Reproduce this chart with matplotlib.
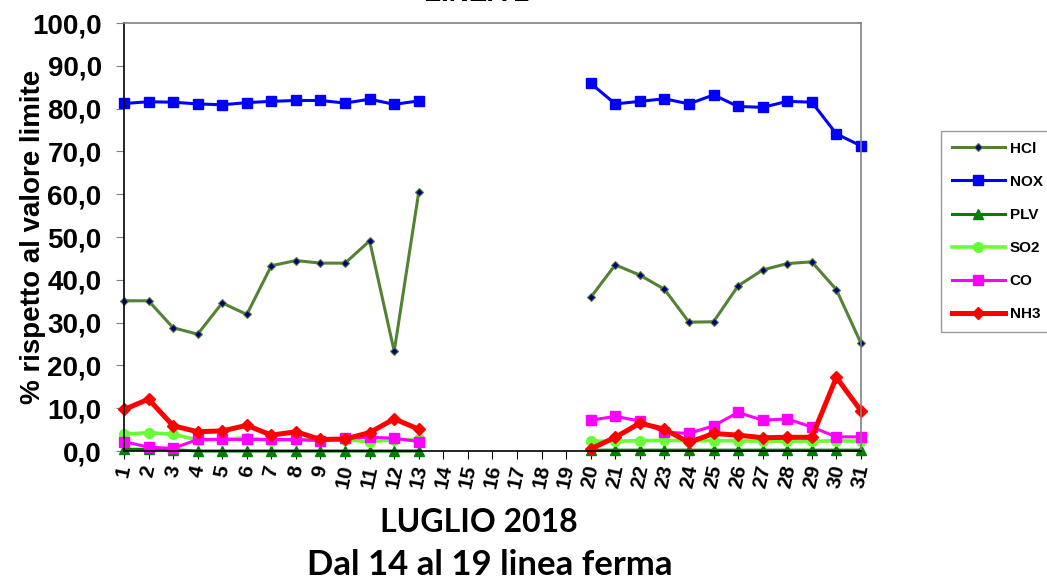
import matplotlib.pyplot as plt
import numpy as np

nan = np.nan

# Giorni di luglio (14-19 linea ferma)
giorni = list(range(1, 32))

hcl = [35.1, 35.1, 28.8, 27.3, 34.6, 31.9, 43.3, 44.5, 43.9, 43.9, 49.1, 23.3, 60.5,
       nan, nan, nan, nan, nan, nan,
       35.9, 43.5, 41.1, 37.8, 30.1, 30.2, 38.6, 42.3, 43.8, 44.2, 37.7, 25.2]
nox = [81.2, 81.6, 81.5, 81.1, 80.9, 81.4, 81.7, 81.9, 81.9, 81.3, 82.2, 81.0, 81.8,
       nan, nan, nan, nan, nan, nan,
       85.9, 81.1, 81.7, 82.3, 81.1, 83.2, 80.5, 80.3, 81.7, 81.5, 74.1, 71.3]
plv = [0.4, 0.4, 0.3, 0.0, 0.0, 0.0, 0.0, 0.0, 0.0, 0.0, 0.0, 0.0, 0.0,
       nan, nan, nan, nan, nan, nan,
       0.2, 0.2, 0.2, 0.2, 0.2, 0.2, 0.2, 0.2, 0.2, 0.2, 0.2, 0.2]
so2 = [3.9, 4.3, 3.9, 2.6, 2.7, 3.1, 2.4, 2.6, 2.6, 2.6, 2.2, 2.6, 2.7,
       nan, nan, nan, nan, nan, nan,
       2.3, 2.3, 2.4, 2.5, 2.4, 2.4, 2.4, 2.3, 2.3, 2.3, 2.4, 2.3]
co = [2.2, 0.9, 0.6, 2.7, 2.7, 2.7, 2.7, 2.7, 2.4, 3.0, 3.2, 3.0, 2.2,
      nan, nan, nan, nan, nan, nan,
      7.2, 8.1, 7.0, 4.4, 4.1, 5.9, 9.0, 7.2, 7.5, 5.6, 3.3, 3.3]
nh3 = [9.7, 12.1, 5.9, 4.5, 4.7, 6.0, 3.7, 4.5, 2.7, 2.8, 4.3, 7.5, 5.1,
       nan, nan, nan, nan, nan, nan,
       0.5, 3.2, 6.5, 5.1, 2.0, 4.1, 3.7, 3.1, 3.2, 3.2, 17.2, 9.4]

plt.rcParams['font.family'] = ['Liberation Sans', 'DejaVu Sans']

fig = plt.figure(figsize=(10.47, 5.80), dpi=100)
ax = fig.add_axes([0.1184, 0.2224, 0.7039, 0.7379])

ax.plot(giorni, hcl, color='#548235', lw=2.2, marker='D', ms=4.5,
        mfc='#000080', mec='#548235', mew=0.8, label='HCl', clip_on=False)
ax.plot(giorni, nox, color='#0000FF', lw=2.2, marker='s', ms=7.5, label='NOX', clip_on=False)
ax.plot(giorni, plv, color='#008000', lw=2.2, marker='^', ms=7, label='PLV', clip_on=False)
ax.plot(giorni, so2, color='#66FF33', lw=2.6, marker='o', ms=7, label='SO2', clip_on=False)
ax.plot(giorni, co, color='#FF00FF', lw=2.2, marker='s', ms=7.5, label='CO', clip_on=False)
ax.plot(giorni, nh3, color='#FF0000', lw=3.6, marker='D', ms=6, label='NH3', clip_on=False)

ax.set_xlim(1, 31)
ax.set_ylim(0, 100)
ax.set_xticks(giorni)
ax.set_xticklabels([str(g) for g in giorni], rotation=78, ha='center', va='top',
                   fontsize=15, fontweight='bold')
ax.set_yticks(np.arange(0, 101, 10))
ax.set_yticklabels([f'{v:.1f}'.replace('.', ',') for v in range(0, 101, 10)],
                   fontsize=20, fontweight='bold')
ax.tick_params(axis='y', direction='out', length=6, color='#808080', pad=10)
ax.tick_params(axis='x', direction='out', length=6, color='#000000', pad=3)

for s in ['left', 'bottom']:
    ax.spines[s].set_color('black')
for s in ['top', 'right']:
    ax.spines[s].set_color('#808080')
for s in ax.spines.values():
    s.set_linewidth(1.2)

ax.set_ylabel('% rispetto al valore limite', fontsize=20, fontweight='bold')
ax.yaxis.set_label_coords(-0.106, 0.5)

leg = fig.legend(loc='upper left', bbox_to_anchor=(941 / 1047, 1 - 131 / 580),
                 prop={'weight': 'bold', 'size': 11},
                 frameon=True, fancybox=False, edgecolor='#808080',
                 handlelength=3.5, handletextpad=0.3, labelspacing=1.25,
                 borderpad=0.7, borderaxespad=0)
leg.get_frame().set_linewidth(1.0)

fig.text(0.455, 1.010, 'LINEA 2', ha='center', va='center', fontsize=20, fontweight='bold')
fig.text(0.457, 1 - 523 / 580, 'LUGLIO 2018', ha='center', va='center',
         fontsize=23, fontweight='bold', family=['Lato', 'DejaVu Sans'])
fig.text(0.468, 1 - 565 / 580, 'Dal 14 al 19 linea ferma', ha='center', va='center',
         fontsize=25, fontweight='bold', family=['Lato', 'DejaVu Sans'])

fig.savefig('out.png', dpi=100)
